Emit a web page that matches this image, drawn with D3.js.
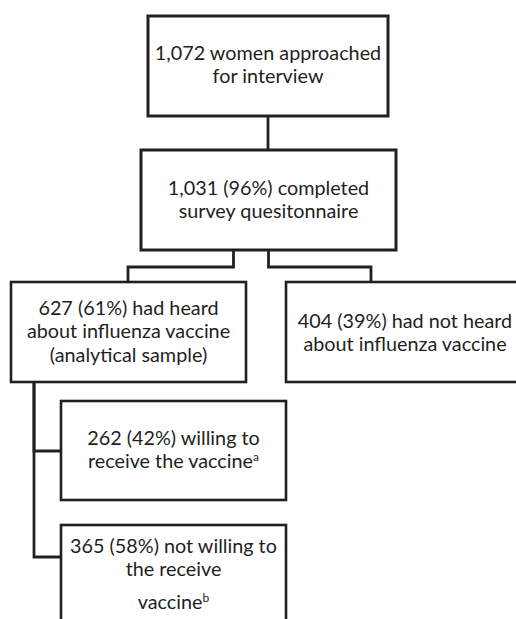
<!DOCTYPE html>
<html>
<head>
<meta charset="utf-8">
<script src="https://cdn.jsdelivr.net/npm/d3@7"></script>
<style>
  body { margin: 0; background: #fff; }
  svg { display: block; }
</style>
</head>
<body>
<div id="chart"></div>
<script>
"use strict";

//
// Data
//
var nodeIds = ["approached", "completed", "heard", "notHeard", "willing", "notWilling"];
var nodeCounts = ["1,072", "1,031 (96%)", "627 (61%)", "404 (39%)", "262 (42%)", "365 (58%)"];
var nodeLines = [
	["{n} women approached", "for interview"],
	["{n} completed", "survey quesitonnaire"],
	["{n} had heard", "about influenza vaccine", "(analytical sample)"],
	["{n} had not heard", "about influenza vaccine"],
	["{n} willing to", "receive the vaccine^a"],
	["{n} not willing to", "the receive", "", "vaccine^b"]
];
var links = [
	["approached", "completed"],
	["completed", "heard"],
	["completed", "notHeard"],
	["heard", "willing"],
	["heard", "notWilling"]
];

//
// Layout (pixels)
//
var width = 516;
var height = 619;
var lineHeight = 23.3;
var ink = "#231f20";

var layout = {
	approached: { x: 148, y: 16, w: 240, h: 100, sw: 3 },
	completed:  { x: 141, y: 150, w: 255, h: 100, sw: 3 },
	heard:      { x: 11, y: 282, w: 235, h: 100, sw: 2.6 },
	notHeard:   { x: 286, y: 282, w: 240, h: 100, sw: 2.6 },
	willing:    { x: 61, y: 401, w: 225, h: 99, sw: 2.6 },
	notWilling: { x: 61, y: 525, w: 225, h: 110, sw: 2.6 }
};
// first baseline, measured from the box top
var textTop = { approached: 44, completed: 45, heard: 33, notHeard: 46, willing: 44, notWilling: 28 };

var nodes = nodeIds.map(function(id, i) {
	return { id: id, count: nodeCounts[i], lines: nodeLines[i], box: layout[id] };
});
var byId = {};
nodes.forEach(function(d) { byId[d.id] = d; });

var svg = d3.select("#chart").append("svg")
	.attr("width", width)
	.attr("height", height);

//
// Connectors
//
function linkPath(l) {
	var s = byId[l[0]].box, t = byId[l[1]].box;
	var sx = s.x + s.w / 2, sy = s.y + s.h;
	if (l[0] === "approached")
		return "M" + sx + "," + sy + "V" + t.y;
	if (l[0] === "completed") {
		var off = l[1] === "heard" ? -35 : 0;
		var tx = t.x + (l[1] === "heard" ? 117 : 85);
		var midY = sy + 17;
		return "M" + (sx + off) + "," + sy + "V" + midY + "H" + tx + "V" + t.y;
	}
	// left rail from the analytical sample box
	var rx = s.x + 23;
	var ty = t.y + (l[1] === "willing" ? 50 : 32);
	return "M" + rx + "," + sy + "V" + ty + "H" + t.x;
}

svg.append("g")
	.selectAll("path")
	.data(links)
	.enter()
	.append("path")
	.attr("d", linkPath)
	.attr("fill", "none")
	.attr("stroke", ink)
	.attr("stroke-width", 2.8)
	.attr("stroke-linejoin", "miter");

//
// Boxes
//
var box = svg.append("g")
	.selectAll(".node")
	.data(nodes)
	.enter()
	.append("g")
	.attr("class", "node");

box.append("rect")
	.attr("x", function(d) { return d.box.x; })
	.attr("y", function(d) { return d.box.y; })
	.attr("width", function(d) { return d.box.w; })
	.attr("height", function(d) { return d.box.h; })
	.attr("fill", "#fff")
	.attr("stroke", ink)
	.attr("stroke-width", function(d) { return d.box.sw; });

var text = box.append("text")
	.attr("text-anchor", "middle")
	.attr("fill", ink)
	.style("font-family", "Lato, 'Open Sans', sans-serif")
	.style("font-size", "19.8px");

text.each(function(d) {
	var t = d3.select(this);
	var cx = d.id === "notHeard" ? d.box.x + 119 : d.box.x + d.box.w / 2;
	var y0 = d.box.y + textTop[d.id];
	var row = 0;
	d.lines.forEach(function(line) {
		if (line === "") { row += 0.42; return; }
		var parts = line.replace("{n}", d.count).split("^");
		t.append("tspan")
			.attr("x", cx)
			.attr("y", y0 + row * lineHeight)
			.text(parts[0]);
		if (parts[1]) {
			t.append("tspan")
				.style("font-size", "12px")
				.attr("baseline-shift", "super")
				.text(parts[1]);
		}
		row += 1;
	});
});
</script>
</body>
</html>
